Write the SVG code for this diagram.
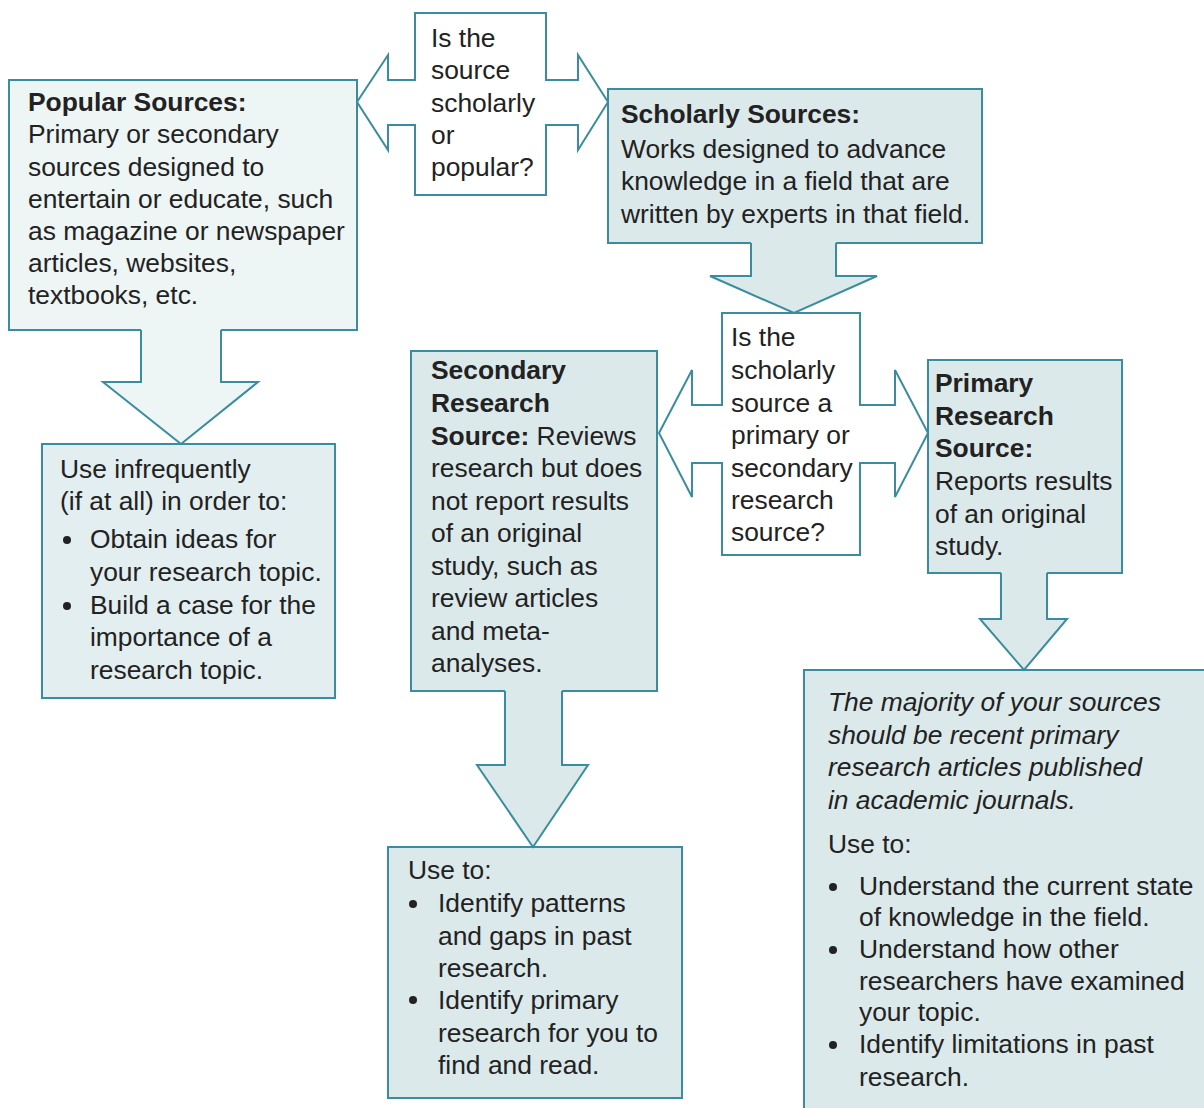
<svg xmlns="http://www.w3.org/2000/svg" width="1204" height="1108" viewBox="0 0 1204 1108">
  <style>
    .box { stroke: #3a8d9e; stroke-width: 2; }
    .pop { fill: #eef5f5; }
    .use1 { fill: #e3eef0; }
    .sch { fill: #dce9eb; }
    .cross { fill: #ffffff; stroke: #3a8d9e; stroke-width: 2; stroke-linejoin: miter; }
    .afill { stroke: none; }
    .aline { fill: none; stroke: #3a8d9e; stroke-width: 2; stroke-linejoin: miter; }
    text { font-family: "Liberation Sans", Arial, Helvetica, sans-serif; font-size: 26.4px; fill: #222222; }
    .b { font-weight: bold; }
    .i { font-style: italic; }
    .dot { fill: #222222; }
  </style>
  <rect width="1204" height="1108" fill="#ffffff"/>

  <!-- Popular sources -->
  <g id="popular">
    <rect class="box pop" x="9" y="80" width="348" height="250"/>
    <text x="28" y="111" class="b">Popular Sources:</text>
    <text x="28" y="143">Primary or secondary</text>
    <text x="28" y="175.5">sources designed to</text>
    <text x="28" y="208">entertain or educate, such</text>
    <text x="28" y="240">as magazine or newspaper</text>
    <text x="28" y="272">articles, websites,</text>
    <text x="28" y="304">textbooks, etc.</text>
  </g>

  <!-- Use of popular sources -->
  <g id="popular-use">
    <rect class="box use1" x="42" y="444" width="293" height="254"/>
    <text x="60" y="478">Use infrequently</text>
    <text x="60" y="510">(if at all) in order to:</text>
    <circle class="dot" cx="67" cy="540" r="4"/>
    <text x="90" y="548">Obtain ideas for</text>
    <text x="90" y="581">your research topic.</text>
    <circle class="dot" cx="67" cy="606" r="4"/>
    <text x="90" y="614">Build a case for the</text>
    <text x="90" y="646">importance of a</text>
    <text x="90" y="679">research topic.</text>
  </g>

  <!-- Scholarly sources -->
  <g id="scholarly">
    <rect class="box sch" x="608" y="89" width="374" height="154"/>
    <text x="621" y="123" class="b">Scholarly Sources:</text>
    <text x="621" y="158">Works designed to advance</text>
    <text x="621" y="190">knowledge in a field that are</text>
    <text x="621" y="223">written by experts in that field.</text>
  </g>

  <!-- Secondary research source -->
  <g id="secondary">
    <rect class="box sch" x="411" y="351" width="246" height="340"/>
    <text x="431" y="379" class="b">Secondary</text>
    <text x="431" y="412" class="b">Research</text>
    <text x="431" y="444.5"><tspan class="b">Source:</tspan> Reviews</text>
    <text x="431" y="477">research but does</text>
    <text x="431" y="509.5">not report results</text>
    <text x="431" y="542">of an original</text>
    <text x="431" y="574.5">study, such as</text>
    <text x="431" y="607">review articles</text>
    <text x="431" y="640">and meta-</text>
    <text x="431" y="672">analyses.</text>
  </g>

  <!-- Use of secondary sources -->
  <g id="secondary-use">
    <rect class="box sch" x="388" y="847" width="294" height="251"/>
    <text x="408" y="879">Use to:</text>
    <circle class="dot" cx="413" cy="904" r="4"/>
    <text x="438" y="912">Identify patterns</text>
    <text x="438" y="944.5">and gaps in past</text>
    <text x="438" y="977">research.</text>
    <circle class="dot" cx="413" cy="1000" r="4"/>
    <text x="438" y="1009">Identify primary</text>
    <text x="438" y="1041.5">research for you to</text>
    <text x="438" y="1074">find and read.</text>
  </g>

  <!-- Primary research source -->
  <g id="primary">
    <rect class="box sch" x="928" y="360" width="194" height="213"/>
    <text x="935" y="392" class="b">Primary</text>
    <text x="935" y="424.5" class="b">Research</text>
    <text x="935" y="457" class="b">Source:</text>
    <text x="935" y="490">Reports results</text>
    <text x="935" y="523">of an original</text>
    <text x="935" y="555">study.</text>
  </g>

  <!-- Use of primary sources -->
  <g id="primary-use">
    <rect class="box sch" x="804" y="670" width="410" height="450"/>
    <text x="828" y="711" class="i">The majority of your sources</text>
    <text x="828" y="744" class="i">should be recent primary</text>
    <text x="828" y="776" class="i">research articles published</text>
    <text x="828" y="809" class="i">in academic journals.</text>
    <text x="828" y="853">Use to:</text>
    <circle class="dot" cx="833" cy="887" r="4"/>
    <text x="859" y="895">Understand the current state</text>
    <text x="859" y="926">of knowledge in the field.</text>
    <circle class="dot" cx="833" cy="950" r="4"/>
    <text x="859" y="958">Understand how other</text>
    <text x="859" y="990">researchers have examined</text>
    <text x="859" y="1021">your topic.</text>
    <circle class="dot" cx="833" cy="1045" r="4"/>
    <text x="859" y="1053">Identify limitations in past</text>
    <text x="859" y="1086">research.</text>
  </g>

  <!-- Decision: scholarly or popular -->
  <g id="decision-type">
    <polygon class="cross" points="415,13 546,13 546,80 578,80 578,55 608,102 578,150 578,125 546,125 546,195 415,195 415,125 388,125 388,150 357,102 388,55 388,80 415,80"/>
    <text x="431" y="47">Is the</text>
    <text x="431" y="79">source</text>
    <text x="431" y="112">scholarly</text>
    <text x="431" y="144">or</text>
    <text x="431" y="176">popular?</text>
  </g>

  <!-- Decision: primary or secondary -->
  <g id="decision-kind">
    <polygon class="cross" points="722,313 860,313 860,405 895,405 895,370 928,433 895,497 895,463 860,463 860,555 722,555 722,463 692,463 692,497 659,433 692,370 692,405 722,405"/>
    <text x="731" y="346">Is the</text>
    <text x="731" y="379">scholarly</text>
    <text x="731" y="412">source a</text>
    <text x="731" y="444">primary or</text>
    <text x="731" y="477">secondary</text>
    <text x="731" y="509">research</text>
    <text x="731" y="541">source?</text>
  </g>

  <!-- Block arrows between boxes -->
  <g id="connectors">
    <polygon class="afill pop" points="141,328 221,328 221,382 258,382 181,444 103,382 141,382"/>
    <polyline class="aline" points="141,330 141,382 103,382 181,444 258,382 221,382 221,330"/>

    <polygon class="afill sch" points="751,241 836,241 836,276 877,276 794,313 710,276 751,276"/>
    <polyline class="aline" points="751,243 751,276 710,276 794,313 877,276 836,276 836,243"/>

    <polygon class="afill sch" points="505,689 562,689 562,765 588,765 533,847 477,765 505,765"/>
    <polyline class="aline" points="505,691 505,765 477,765 533,847 588,765 562,765 562,691"/>

    <polygon class="afill sch" points="1001,571 1047,571 1047,619 1067,619 1024,670 980,619 1001,619"/>
    <polyline class="aline" points="1001,573 1001,619 980,619 1024,670 1067,619 1047,619 1047,573"/>
  </g>
</svg>
